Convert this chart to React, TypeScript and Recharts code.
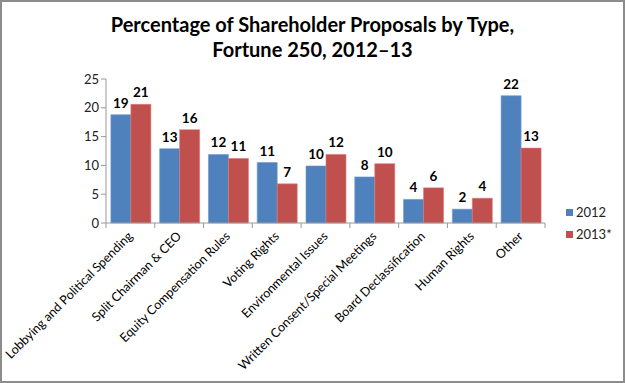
import { BarChart, Bar, XAxis, YAxis, LabelList } from 'recharts';

const categories = [
  'Lobbying and Political Spending',
  'Split Chairman & CEO',
  'Equity Compensation Rules',
  'Voting Rights',
  'Environmental Issues',
  'Written Consent/Special Meetings',
  'Board Declassification',
  'Human Rights',
  'Other'
];
const values2012 = [18.8, 12.9, 11.9, 10.5, 9.9, 8.0, 4.1, 2.4, 22.1];
const values2013 = [20.6, 16.2, 11.2, 6.8, 11.9, 10.3, 6.1, 4.3, 13.0];
const yTicks = [0, 5, 10, 15, 20, 25];
const seriesNames = ['2012', '2013*'];

const data = categories.map((name, i) => ({
  name,
  y2012: values2012[i],
  y2013: values2013[i]
}));

const W = 625;
const H = 383;
const PLOT_LEFT = 106;
const PLOT_RIGHT = 545;
const HALF_BAND = (PLOT_RIGHT - PLOT_LEFT) / categories.length / 2;
const FONT = 'Lato, "Open Sans", sans-serif';

const CategoryTick = (props: any) => {
  const { x, y, payload, index } = props;
  return (
    <g>
      {index === 0 && (
        <line x1={x - HALF_BAND} x2={x - HALF_BAND} y1={y - 8} y2={y - 3} stroke="#999" />
      )}
      <line x1={x + HALF_BAND} x2={x + HALF_BAND} y1={y - 8} y2={y - 3} stroke="#999" />
      <text
        x={x + 3}
        y={y + 6}
        textAnchor="end"
        transform={`rotate(-45, ${x + 3}, ${y + 6})`}
        fontSize={12.5}
        fill="#000"
        fontFamily={FONT}
      >
        {payload.value}
      </text>
    </g>
  );
};

const colors = ['#4F81BD', '#C0504D'];

const App = () => {
  return (
    <div
      style={{
        position: 'absolute',
        left: 0,
        top: 0,
        width: W,
        height: H,
        boxSizing: 'border-box',
        border: '2px solid #8c8c8c',
        background: '#fff',
        fontFamily: FONT
      }}
    >
      <div
        style={{
          position: 'absolute',
          left: 0,
          top: 10,
          width: W - 4,
          textAlign: 'center',
          fontWeight: 700,
          fontSize: 20,
          lineHeight: '25px',
          color: '#000'
        }}
      >
        Percentage of Shareholder Proposals by Type,
        <br />
        Fortune 250, 2012–13
      </div>
      <div style={{ position: 'absolute', left: -2, top: -2 }}>
        <BarChart
          width={W}
          height={H}
          data={data}
          margin={{ top: 79, right: W - PLOT_RIGHT, left: 0, bottom: 0 }}
          barCategoryGap="10%"
          barGap={0}
        >
          <XAxis
            dataKey="name"
            interval={0}
            height={160}
            tickLine={false}
            stroke="#999"
            tick={<CategoryTick />}
          />
          <YAxis
            width={PLOT_LEFT}
            domain={[0, 25]}
            ticks={yTicks}
            stroke="#999"
            tickSize={5}
            tick={{ fill: '#222', fontSize: 13, fontFamily: FONT }}
          />
          <Bar dataKey="y2012" fill={colors[0]} stroke="#6f9bd0" strokeWidth={0.6} isAnimationActive={false}>
            <LabelList
              dataKey="y2012"
              position="top"
              offset={7}
              formatter={(v: any) => Math.round(v)}
              style={{ fontWeight: 700, fontSize: 13.5, fill: '#000', fontFamily: FONT }}
            />
          </Bar>
          <Bar dataKey="y2013" fill={colors[1]} stroke="#d97a77" strokeWidth={0.6} isAnimationActive={false}>
            <LabelList
              dataKey="y2013"
              position="top"
              offset={7}
              formatter={(v: any) => Math.round(v)}
              style={{ fontWeight: 700, fontSize: 13.5, fill: '#000', fontFamily: FONT }}
            />
          </Bar>
        </BarChart>
      </div>
      {seriesNames.map((s, i) => (
        <div
          key={s}
          style={{
            position: 'absolute',
            left: 564,
            top: 202 + i * 22,
            display: 'flex',
            alignItems: 'center',
            fontSize: 13,
            color: '#222'
          }}
        >
          <span style={{ width: 7, height: 7, background: colors[i], marginRight: 3, display: 'inline-block' }} />
          {s}
        </div>
      ))}
    </div>
  );
};

export default App;
